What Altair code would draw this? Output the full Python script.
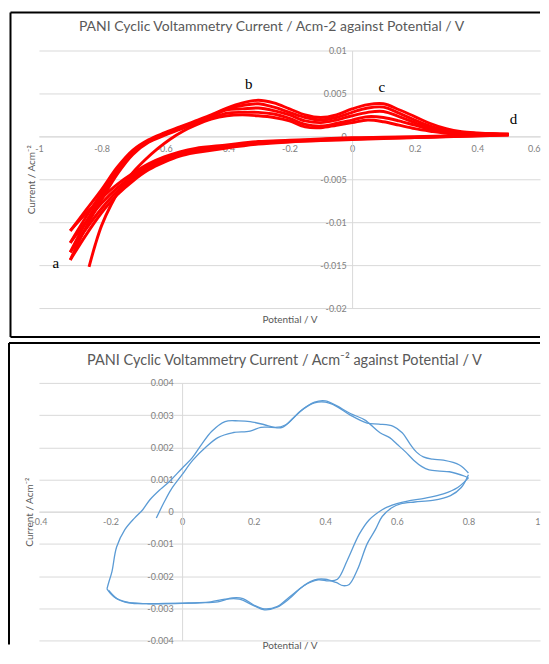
import altair as alt
import pandas as pd

FONT = "Lato"
SERIF = "Liberation Serif"
GRID = "#d9d9d9"
LABEL = "#7f7f7f"
TITLE = "#595959"
H = 258
W_TOP = 502
W_BOT = 502

# ---------------- top panel (current in mA/cm^2) ----------------
top_anodic_x = [-0.9, -0.85, -0.8, -0.75, -0.7, -0.65, -0.6, -0.55, -0.5, -0.45, -0.4, -0.35, -0.3, -0.25,
                -0.2, -0.15, -0.1, -0.05, 0.0, 0.05, 0.1, 0.15, 0.2, 0.25, 0.3, 0.35, 0.4, 0.45, 0.5]
top_anodic_a = [-11.0, -8.6, -6.2, -3.6, -1.6, -0.4, 0.4, 1.1, 1.8, 2.5, 3.3, 3.9, 4.2, 3.9,
                3.2, 2.5, 2.2, 2.5, 3.2, 3.7, 3.8, 3.1, 2.3, 1.5, 0.9, 0.55, 0.4, 0.3, 0.25]
top_anodic_b = [-12.4, -9.4, -6.6, -3.9, -1.8, -0.5, 0.3, 1.0, 1.7, 2.4, 3.2, 3.6, 3.8, 3.4,
                2.8, 2.2, 1.9, 2.2, 2.8, 3.3, 3.4, 2.7, 1.9, 1.2, 0.75, 0.45, 0.35, 0.3, 0.25]
top_anodic_c = [-13.5, -10.0, -7.0, -4.1, -1.9, -0.6, 0.2, 0.9, 1.6, 2.3, 3.1, 3.2, 3.3, 3.0,
                2.5, 1.8, 1.6, 1.9, 2.4, 2.8, 2.9, 2.3, 1.6, 1.0, 0.6, 0.4, 0.3, 0.25, 0.2]
top_anodic_d = [-14.4, -10.6, -7.4, -4.4, -2.1, -0.7, 0.1, 0.8, 1.5, 2.1, 2.7, 2.8, 2.8, 2.6,
                2.1, 1.4, 1.2, 1.5, 1.9, 2.3, 2.2, 1.8, 1.3, 0.8, 0.5, 0.35, 0.3, 0.25, 0.2]
first_scan_x = [-0.84, -0.82, -0.8, -0.77, -0.74, -0.7, -0.66, -0.62, -0.58, -0.54, -0.5, -0.45, -0.4,
                -0.35, -0.3, -0.25, -0.2, -0.15, -0.1, -0.05, 0.0, 0.05, 0.1, 0.15, 0.2, 0.25, 0.3,
                0.35, 0.4, 0.45, 0.5]
first_scan_y = [-15.2, -12.6, -10.4, -8.0, -6.1, -4.2, -2.7, -1.4, -0.3, 0.6, 1.3, 2.0, 2.4,
                2.5, 2.4, 2.2, 1.8, 1.1, 1.0, 1.3, 1.6, 1.9, 1.7, 1.3, 0.9, 0.6, 0.35,
                0.25, 0.2, 0.18, 0.15]
top_cath_x = [0.5, 0.4, 0.3, 0.2, 0.1, 0.0, -0.1, -0.2, -0.3, -0.4, -0.5, -0.55, -0.6, -0.65,
              -0.7, -0.75, -0.8, -0.85, -0.9]
top_cath_1 = [0.25, 0.15, 0.05, -0.05, -0.1, -0.15, -0.3, -0.45, -0.6, -1.0, -1.4, -1.8, -2.4, -3.2,
              -4.3, -5.6, -7.2, -9.0, -11.0]
top_cath_2 = [0.2, 0.1, 0.0, -0.1, -0.15, -0.22, -0.36, -0.52, -0.7, -1.15, -1.6, -2.0, -2.6, -3.4,
              -4.6, -6.0, -7.8, -10.0, -12.4]
top_cath_3 = [0.2, 0.08, -0.02, -0.12, -0.2, -0.3, -0.42, -0.6, -0.8, -1.25, -1.75, -2.15, -2.8, -3.6,
              -4.9, -6.4, -8.4, -10.8, -13.5]
top_cath_4 = [0.15, 0.05, -0.05, -0.15, -0.25, -0.38, -0.5, -0.66, -0.9, -1.35, -1.9, -2.3, -3.0, -3.9,
              -5.2, -6.8, -8.9, -11.5, -14.4]

top_marks = ["a", "b", "c", "d"]
top_mark_x = [-0.946, -0.33, 0.095, 0.515]
top_mark_y = [-0.0147, 0.0061, 0.0057, 0.002]

top_x_ticks = [-1, -0.8, -0.6, -0.4, -0.2, 0, 0.2, 0.4, 0.6]
top_y_ticks = [0.01, 0.005, 0, -0.005, -0.01, -0.015, -0.02]

# ---------------- bottom panel (current in mA/cm^2) ----------------
bot_an1_x = [-0.072, -0.05, -0.03, 0.0, 0.03, 0.066, 0.1, 0.14, 0.19, 0.22, 0.25, 0.28, 0.31, 0.34,
             0.37, 0.40, 0.43, 0.47, 0.517, 0.55, 0.59, 0.615, 0.637, 0.655, 0.674, 0.70, 0.73, 0.775, 0.80]
bot_an1_y = [-0.2, 0.3, 0.7, 1.15, 1.6, 2.0, 2.3, 2.45, 2.5, 2.62, 2.62, 2.62, 2.9, 3.2,
             3.38, 3.4, 3.28, 3.0, 2.75, 2.72, 2.65, 2.45, 2.1, 1.85, 1.7, 1.63, 1.6, 1.45, 1.2]
bot_cat1_x = [0.80, 0.78, 0.75, 0.70, 0.65, 0.61, 0.586, 0.559, 0.54, 0.517, 0.49, 0.467, 0.45, 0.43,
              0.40, 0.37, 0.34, 0.30, 0.265, 0.23, 0.20, 0.17, 0.14, 0.10, 0.05, 0.0, -0.05, -0.10,
              -0.15, -0.18, -0.205]
bot_cat1_y = [1.15, 0.75, 0.5, 0.35, 0.3, 0.24, 0.12, -0.15, -0.56, -1.0, -1.8, -2.26, -2.3, -2.2,
              -2.1, -2.12, -2.3, -2.65, -2.95, -3.02, -2.9, -2.7, -2.68, -2.8, -2.83, -2.84, -2.85, -2.86,
              -2.83, -2.72, -2.45]
bot_an2_x = [-0.21, -0.205, -0.196, -0.183, -0.16, -0.133, -0.11, -0.09, -0.06, -0.036, 0.0, 0.028,
             0.055, 0.083, 0.12, 0.158, 0.19, 0.23, 0.26, 0.29, 0.33, 0.37, 0.40, 0.43, 0.47, 0.51,
             0.553, 0.58, 0.60, 0.625, 0.647, 0.67, 0.69, 0.72, 0.747, 0.79, 0.80]
bot_an2_y = [-2.4, -2.2, -1.86, -1.1, -0.56, -0.2, 0.06, 0.37, 0.7, 0.93, 1.35, 1.67,
             2.1, 2.5, 2.8, 2.82, 2.8, 2.7, 2.62, 2.7, 3.12, 3.4, 3.44, 3.3, 3.05, 2.85,
             2.45, 2.3, 2.1, 1.85, 1.6, 1.4, 1.3, 1.26, 1.24, 1.1, 1.05]
bot_cat2_x = [0.80, 0.77, 0.73, 0.68, 0.63, 0.60, 0.575, 0.559, 0.523, 0.495, 0.462, 0.434, 0.41, 0.38,
              0.34, 0.30, 0.265, 0.23, 0.20, 0.16, 0.12, 0.08, 0.0, -0.10, -0.15, -0.19, -0.21]
bot_cat2_y = [1.05, 0.75, 0.55, 0.42, 0.33, 0.25, 0.15, 0.06, -0.25, -0.7, -1.5, -2.1, -2.15, -2.12,
              -2.3, -2.7, -2.97, -3.05, -2.92, -2.72, -2.72, -2.8, -2.85, -2.86, -2.82, -2.65, -2.4]

bot_x_ticks = [-0.4, -0.2, 0, 0.2, 0.4, 0.6, 0.8, 1]
bot_y_ticks = [0.004, 0.003, 0.002, 0.001, 0, -0.001, -0.002, -0.003, -0.004]

TOP_TITLE = "PANI Cyclic Voltammetry Current / Acm-2 against Potential / V"
BOT_TITLE = "PANI Cyclic Voltammetry Current / Acm\u207b\u00b2 against Potential / V"
Y_TITLE = "Current / Acm\u207b\u00b2"
X_TITLE = "Potential / V"


def rows(name, xs, ys):
    return [{"series": name, "i": k, "x": x, "y": y / 1000.0} for k, (x, y) in enumerate(zip(xs, ys))]


top_df = pd.DataFrame(
    rows("first", first_scan_x, first_scan_y)
    + rows("k1", top_cath_x, top_cath_1)
    + rows("a", top_anodic_x, top_anodic_a)
    + rows("k2", top_cath_x, top_cath_2)
    + rows("b", top_anodic_x, top_anodic_b)
    + rows("k3", top_cath_x, top_cath_3)
    + rows("c", top_anodic_x, top_anodic_c)
    + rows("k4", top_cath_x, top_cath_4)
    + rows("d", top_anodic_x, top_anodic_d)
)
bot_df = pd.DataFrame(
    rows("an1", bot_an1_x, bot_an1_y)
    + rows("cat1", bot_cat1_x, bot_cat1_y)
    + rows("an2", bot_an2_x, bot_an2_y)
    + rows("cat2", bot_cat2_x, bot_cat2_y)
)
marks_df = pd.DataFrame({"x": top_mark_x, "y": top_mark_y, "t": top_marks})
one = pd.DataFrame({"k": [0]})

LBL_EXPR = "datum.value + ''"


def axis(values, grid, offset, pad, **kw):
    return alt.Axis(values=values, grid=grid, gridColor=GRID, gridWidth=1, ticks=False,
                    domain=True, domainColor=GRID, domainWidth=1, offset=offset,
                    labelExpr=LBL_EXPR, labelFont=FONT, labelFontSize=9, labelColor=LABEL,
                    labelPadding=pad, labelFlush=False, labelOverlap=False,
                    titleFont=FONT, titleFontSize=10, titleFontWeight="normal", titleColor=TITLE,
                    titleBaseline="middle", **kw)


def rule(**enc):
    return alt.Chart(one).mark_rule(color="black", strokeWidth=2).encode(**enc)


def text(label, x, y, size):
    return alt.Chart(one).mark_text(text=label, font=FONT, fontSize=size, color=TITLE,
                                    align="center", baseline="middle").encode(
        x=alt.value(x), y=alt.value(y))


# top chart: x 0 at 313.75 px, y 0 at 86 px
top_lines = alt.Chart(top_df).mark_line(color="#ff0000", strokeWidth=2.9, interpolate="catmull-rom").encode(
    x=alt.X("x:Q", scale=alt.Scale(domain=[-1, 0.6], nice=False, zero=False),
            axis=axis(top_x_ticks, False, -172, 8, title=X_TITLE, titleY=183,
                      labelAlign={"expr": "datum.value >= 0.6 ? 'right' : 'center'"})),
    y=alt.Y("y:Q", scale=alt.Scale(domain=[-0.02, 0.01], nice=False, zero=False),
            axis=axis(top_y_ticks, True, -313.75, 6, title=Y_TITLE, titleX=-320.75, titleY=129,
                      titleAngle=270, titleAlign="center")),
    detail="series:N",
    order="i:Q",
)
top_text = alt.Chart(marks_df).mark_text(font=SERIF, fontSize=15, color="black",
                                         align="center", baseline="middle").encode(
    x="x:Q", y="y:Q", text="t:N")
top = alt.layer(
    top_lines, top_text,
    text(TOP_TITLE, 233, -24, 14),
    rule(x=alt.value(-28.5), y=alt.value(-38), y2=alt.value(287)),
    rule(x=alt.value(-28.5), x2=alt.value(W_TOP), y=alt.value(-38)),
    rule(x=alt.value(-28.5), x2=alt.value(W_TOP), y=alt.value(287)),
).properties(width=W_TOP, height=H)

# bottom chart: x 0 at 143.43 px, y 0 at 129 px
bot_lines = alt.Chart(bot_df).mark_line(color="#5b9bd5", strokeWidth=1.3, interpolate="catmull-rom").encode(
    x=alt.X("x:Q", scale=alt.Scale(domain=[-0.4, 1.0], nice=False, zero=False),
            axis=axis(bot_x_ticks, False, -129, 6, title=X_TITLE, titleY=134,
                      labelAlign={"expr": "datum.value >= 1 ? 'right' : 'center'"})),
    y=alt.Y("y:Q", scale=alt.Scale(domain=[-0.004, 0.004], nice=False, zero=False),
            axis=axis(bot_y_ticks, True, -143.43, 9, title=Y_TITLE, titleX=-152.4, titleY=129,
                      titleAngle=270, titleAlign="center")),
    detail="series:N",
    order="i:Q",
)
bottom = alt.layer(
    bot_lines,
    text(BOT_TITLE, 246, -22, 14.5),
    rule(x=alt.value(-30), y=alt.value(-40), y2=alt.value(262)),
    rule(x=alt.value(-30), x2=alt.value(W_BOT), y=alt.value(-40)),
).properties(width=W_BOT, height=H)

chart = alt.vconcat(top, bottom, spacing=75, bounds="flush").properties(
    padding={"left": 0, "top": 3, "right": 0, "bottom": 0}
).configure_view(strokeWidth=0).configure_text(font=FONT)

chart.save("out.html", embed_options={"renderer": "svg", "actions": False})
